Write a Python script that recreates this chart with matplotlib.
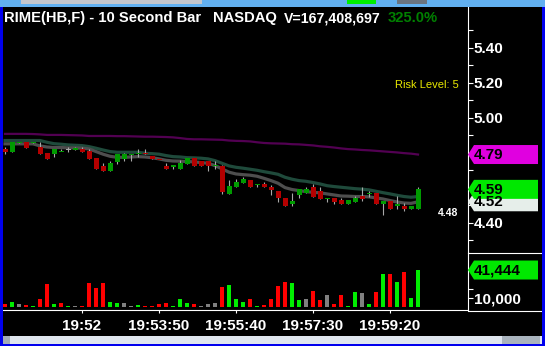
import numpy as np
import matplotlib
matplotlib.use('Agg')
import matplotlib.pyplot as plt
import matplotlib.transforms as mtransforms
from matplotlib.patches import Polygon, Rectangle
from matplotlib.lines import Line2D

plt.rcParams['font.family'] = ['Liberation Sans', 'DejaVu Sans']

# 10 second bars, 19:50:10 .. 20:00:00
opens = [4.825, 4.808, 4.860, 4.861, 4.860, 4.834, 4.798, 4.796, 4.810, 4.821,
         4.822, 4.823, 4.812, 4.772, 4.726, 4.699, 4.751, 4.768, 4.790, 4.797,
         4.800, 4.783, 4.762, 4.726, 4.725, 4.711, 4.739, 4.772, 4.754, 4.754,
         4.727, 4.726, 4.566, 4.608, 4.629, 4.646, 4.620, 4.621, 4.608, 4.583,
         4.545, 4.509, 4.560, 4.570, 4.606, 4.583, 4.540, 4.543, 4.532, 4.509,
         4.522, 4.554, 4.569, 4.572, 4.509, 4.526, 4.502, 4.499, 4.482, 4.482]
highs = [4.834, 4.862, 4.862, 4.862, 4.862, 4.863, 4.798, 4.823, 4.825, 4.834,
         4.834, 4.834, 4.823, 4.772, 4.741, 4.754, 4.794, 4.802, 4.792, 4.823,
         4.823, 4.783, 4.762, 4.743, 4.726, 4.760, 4.772, 4.772, 4.754, 4.754,
         4.754, 4.731, 4.646, 4.652, 4.665, 4.646, 4.621, 4.634, 4.617, 4.583,
         4.545, 4.570, 4.594, 4.606, 4.623, 4.606, 4.541, 4.543, 4.543, 4.532,
         4.554, 4.606, 4.583, 4.572, 4.526, 4.526, 4.554, 4.513, 4.499, 4.606]
lows = [4.796, 4.806, 4.859, 4.830, 4.859, 4.794, 4.768, 4.779, 4.809, 4.808,
        4.815, 4.808, 4.768, 4.711, 4.699, 4.699, 4.737, 4.756, 4.756, 4.779,
        4.796, 4.768, 4.759, 4.711, 4.711, 4.711, 4.739, 4.728, 4.728, 4.699,
        4.711, 4.566, 4.566, 4.608, 4.629, 4.608, 4.608, 4.608, 4.560, 4.522,
        4.499, 4.499, 4.541, 4.570, 4.549, 4.539, 4.522, 4.511, 4.509, 4.509,
        4.522, 4.526, 4.551, 4.509, 4.446, 4.482, 4.482, 4.471, 4.482, 4.482]
closes = [4.806, 4.861, 4.861, 4.831, 4.861, 4.794, 4.768, 4.823, 4.812, 4.821,
          4.823, 4.808, 4.768, 4.711, 4.699, 4.743, 4.794, 4.794, 4.791, 4.798,
          4.796, 4.768, 4.759, 4.711, 4.726, 4.743, 4.772, 4.728, 4.728, 4.728,
          4.729, 4.577, 4.612, 4.634, 4.652, 4.608, 4.621, 4.608, 4.591, 4.541,
          4.499, 4.526, 4.594, 4.594, 4.549, 4.539, 4.541, 4.520, 4.509, 4.532,
          4.545, 4.539, 4.570, 4.509, 4.526, 4.482, 4.503, 4.482, 4.499, 4.592]
ma_upper = [4.871, 4.871, 4.871, 4.871, 4.871, 4.871, 4.861, 4.853, 4.850, 4.846,
            4.844, 4.842, 4.836, 4.827, 4.817, 4.808, 4.804, 4.804, 4.804, 4.804,
            4.798, 4.796, 4.793, 4.785, 4.779, 4.777, 4.773, 4.772, 4.770, 4.766,
            4.756, 4.741, 4.726, 4.718, 4.713, 4.707, 4.701, 4.693, 4.686, 4.678,
            4.661, 4.650, 4.642, 4.638, 4.631, 4.623, 4.613, 4.608, 4.604, 4.600,
            4.596, 4.593, 4.589, 4.581, 4.573, 4.566, 4.558, 4.551, 4.547, 4.551]
ma_lower = [4.852, 4.852, 4.852, 4.852, 4.852, 4.840, 4.834, 4.831, 4.831, 4.829,
            4.829, 4.827, 4.823, 4.808, 4.793, 4.781, 4.775, 4.775, 4.777, 4.779,
            4.777, 4.773, 4.766, 4.758, 4.754, 4.753, 4.751, 4.749, 4.745, 4.741,
            4.728, 4.709, 4.690, 4.680, 4.676, 4.673, 4.667, 4.655, 4.642, 4.627,
            4.602, 4.591, 4.585, 4.579, 4.575, 4.572, 4.566, 4.560, 4.554, 4.553,
            4.551, 4.551, 4.549, 4.543, 4.537, 4.528, 4.520, 4.514, 4.512, 4.521]
ma_long = [4.909, 4.909, 4.909, 4.909, 4.908, 4.906, 4.903, 4.903, 4.903, 4.902,
           4.901, 4.900, 4.897, 4.897, 4.897, 4.897, 4.896, 4.896, 4.895, 4.894,
           4.893, 4.893, 4.892, 4.891, 4.889, 4.885, 4.880, 4.878, 4.878, 4.877,
           4.876, 4.875, 4.871, 4.869, 4.868, 4.866, 4.861, 4.857, 4.855, 4.854,
           4.853, 4.850, 4.849, 4.846, 4.843, 4.838, 4.835, 4.831, 4.826, 4.822,
           4.820, 4.817, 4.815, 4.812, 4.809, 4.806, 4.803, 4.799, 4.796, 4.791]
volumes = [3000, 5300, 3000, 1900, 800, 9000, 25600, 3000, 4100, 1100,
           750, 750, 27100, 21100, 27100, 5300, 4100, 4100, 1100, 1900,
           750, 750, 3000, 4100, 1100, 9000, 4100, 3000, 1100, 3000,
           4100, 22200, 24500, 8700, 5300, 8700, 750, 1900, 8700, 23400,
           27900, 26800, 7500, 8700, 17700, 7500, 13200, 3000, 13200, 750,
           16600, 15500, 3000, 16600, 36900, 36900, 27900, 39200, 9800, 41444]
vol_colors = ['r', 'g', 'k', 'r', 'g', 'r', 'r', 'g', 'r', 'g',
              'k', 'r', 'r', 'r', 'r', 'g', 'g', 'k', 'k', 'g',
              'r', 'r', 'r', 'r', 'g', 'g', 'g', 'r', 'k', 'k',
              'k', 'r', 'g', 'g', 'g', 'r', 'g', 'r', 'r', 'r',
              'r', 'g', 'g', 'k', 'r', 'r', 'k', 'r', 'r', 'g',
              'g', 'k', 'g', 'r', 'g', 'r', 'g', 'r', 'g', 'g']
time_ticks = [11, 22, 33, 44, 55]
time_labels = ['19:52', '19:53:50', '19:55:40', '19:57:30', '19:59:20']
price_ticks = [5.4, 5.2, 5.0, 4.8, 4.6, 4.4]
price_labels = ['5.40', '5.20', '5.00', '', '', '4.40']
price_minor = [5.5, 5.3, 5.1, 4.9, 4.7, 4.5, 4.3]

W, H = 545, 346
fig = plt.figure(figsize=(W / 100, H / 100), dpi=100, facecolor='black')


def fbox(x0, y0, x1, y1):
    # pixel box (origin top-left) -> figure fraction rect
    return [x0 / W, 1 - y1 / H, (x1 - x0) / W, (y1 - y0) / H]


ax = fig.add_axes(fbox(3, 7, 468, 252))
axv = fig.add_axes(fbox(3, 252, 468, 310), sharex=ax)
for a in (ax, axv):
    a.set_facecolor('black')
    for s in ('left', 'top', 'bottom'):
        a.spines[s].set_visible(False)
    a.spines['right'].set_color('white')
axv.spines['bottom'].set_visible(True)
axv.spines['bottom'].set_color('white')

x = np.arange(len(closes))
o = np.array(opens)
c = np.array(closes)
red, green, grey = '#b40000', '#009a00', '#a8a8a8'

# candles
ax.vlines(x, lows, highs, color=grey, lw=0.8, zorder=3)
body_lo = np.minimum(o, c)
body_h = np.abs(c - o)
h = np.maximum(body_h, 0.006)
bottom = body_lo - (h - body_h) / 2
colors = [green if cc > oo else red if cc < oo else grey for oo, cc in zip(o, c)]
ax.bar(x, h, bottom=bottom, width=0.72, color=colors, zorder=4)

# averages
ax.plot(x, ma_long, color='#520052', lw=1.6, zorder=2)
ax.plot(x, ma_upper, color='#1f4a3b', lw=2.3, zorder=2)
ax.plot(x, ma_lower, color='#4e4e4e', lw=2.3, zorder=2)

ax.set_xlim(-0.29, 66.14)
ax.set_ylim(4.234, 5.634)
ax.yaxis.tick_right()
ax.set_yticks(price_ticks)
ax.set_yticklabels(price_labels)
ax.set_yticks(price_minor, minor=True)
ax.tick_params(axis='y', which='both', colors='white', length=3.6, width=0.8,
               pad=0.5, labelsize=11)
for t in ax.get_yticklabels():
    t.set_fontweight('bold')
ax.tick_params(axis='x', which='both', bottom=False, labelbottom=False)

# volume
vcmap = {'r': '#ff0000', 'g': '#00ee00', 'k': '#808080'}
axv.bar(x, volumes, width=0.6, color=[vcmap[k] for k in vol_colors])
axv.set_ylim(-3700, 61800)
axv.yaxis.tick_right()
axv.set_yticks([10000, 20000])
axv.set_yticklabels(['10,000', ''])
axv.tick_params(axis='y', colors='white', length=3.6, width=0.8, pad=0.5, labelsize=11)
axv.set_xticks(time_ticks)
axv.set_xticklabels(time_labels)
axv.tick_params(axis='x', colors='white', length=2.2, width=0.8, pad=4.5, labelsize=11)
for t in axv.get_yticklabels() + axv.get_xticklabels():
    t.set_fontweight('bold')


def marker(axis, value, text, color):
    anchor = mtransforms.blended_transform_factory(axis.transAxes, axis.transData)
    tr = fig.dpi_scale_trans + mtransforms.ScaledTranslation(1, value, anchor)
    verts = np.array([(0, 0), (6, 9.5), (70, 9.5), (70, -9.5), (6, -9.5)]) / 100
    axis.add_patch(Polygon(verts, closed=True, transform=tr, facecolor=color,
                           edgecolor='none', clip_on=False, zorder=10))
    axis.text(0.055, -0.005, text, transform=tr, color='black', fontsize=11,
              fontweight='bold', va='center', ha='left', zorder=11, clip_on=False)


marker(ax, ma_long[-1], f'{ma_long[-1]:.2f}', '#e000e0')
marker(ax, ma_lower[-1], f'{ma_lower[-1]:.2f}', '#e6eeea')
marker(ax, closes[-1], f'{closes[-1]:.2f}', '#00e800')
marker(axv, volumes[-1], f'{volumes[-1]:,}', '#00e800')

# texts
blend = mtransforms.blended_transform_factory(ax.transAxes, ax.transData)
ax.text(0.98, 4.457, '4.48', transform=blend, color='white', fontsize=7.5,
        fontweight='bold', ha='right', va='center')
ax.text(0.98, 0.682, 'Risk Level: 5', transform=ax.transAxes, color='#e8e800',
        fontsize=8, ha='right', va='center')
ty = 0.955
ax.text(0.002, ty, 'RIME(HB,F) - 10 Second Bar', transform=ax.transAxes,
        color='white', fontsize=10.6, fontweight='bold', va='center')
ax.text(0.4516, ty, 'NASDAQ', transform=ax.transAxes,
        color='white', fontsize=10.6, fontweight='bold', va='center')
ax.text(0.6043, ty, 'V=167,408,697', transform=ax.transAxes,
        color='white', fontsize=10.2, fontweight='bold', va='center')
ax.text(0.828, ty, '325.0%', transform=ax.transAxes,
        color='#008000', fontsize=10.6, fontweight='bold', va='center')


# window chrome
def prect(x0, y0, x1, y1, color):
    fig.add_artist(Rectangle((x0 / W, 1 - y1 / H), (x1 - x0) / W, (y1 - y0) / H,
                             transform=fig.transFigure, facecolor=color,
                             edgecolor='none', zorder=20))


def pline(x0, y0, x1, y1, color='white'):
    fig.add_artist(Line2D([x0 / W, x1 / W], [1 - y0 / H, 1 - y1 / H],
                          transform=fig.transFigure, color=color, lw=0.8, zorder=20))


pline(468, 252.5, 543, 252.5)
pline(468, 310.5, 543, 310.5)
prect(0, 0, W, 7, '#62b0f0')
prect(21, 0, 202, 4, '#c4c6cc')
prect(347, 0, 376, 4, '#00ee00')
prect(397, 0, 427, 4, '#6a7480')
prect(3, 336, 542, 344, '#dfe6ee')
prect(3, 336, 10, 344, '#a3acb6')
prect(502, 336, 540, 344, '#a9b3bd')
prect(0, 7, 2.5, H, '#0000ee')
prect(542, 7, W, H, '#0000ee')
prect(0, 344, W, H, '#0000ee')

fig.savefig('out.png', dpi=100, facecolor='black')
